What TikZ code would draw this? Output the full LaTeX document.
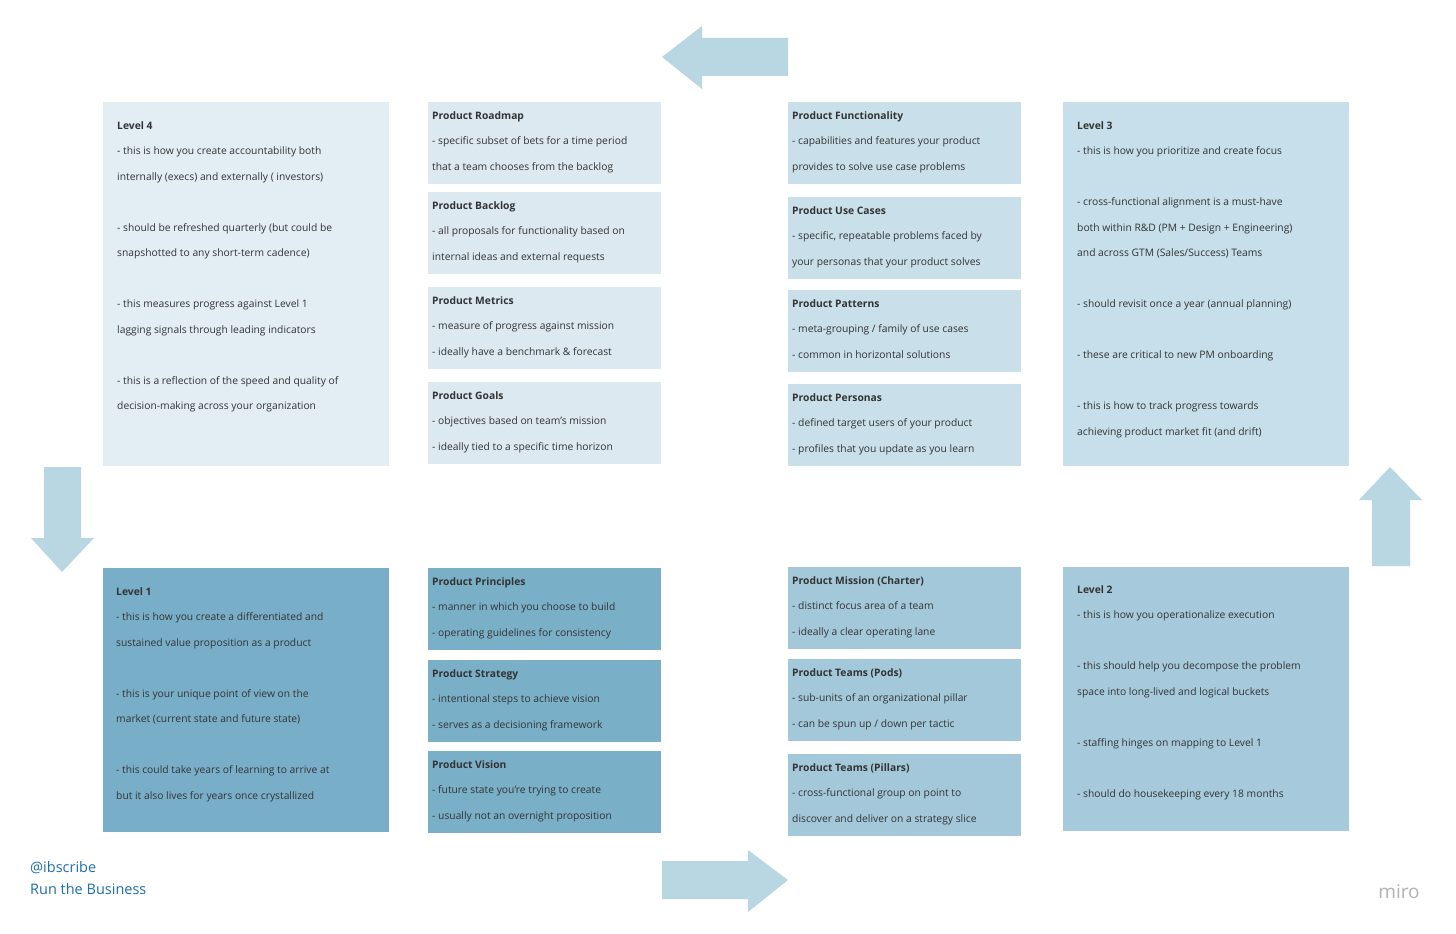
\documentclass[tikz,border=0pt]{standalone}
\usepackage{fontspec}
\setmainfont{Open Sans}
\begin{document}
\definecolor{cA}{HTML}{E3EEF4}
\definecolor{cB}{HTML}{DCE9F0}
\definecolor{cC}{HTML}{C9E0EA}
\definecolor{cD}{HTML}{C6DFEA}
\definecolor{cE}{HTML}{79AEC8}
\definecolor{cF}{HTML}{7AAFC8}
\definecolor{cG}{HTML}{A3C8DA}
\definecolor{cH}{HTML}{A6CADC}
\definecolor{arr}{HTML}{B9D7E3}
\definecolor{txt}{HTML}{333333}
\definecolor{blu}{HTML}{1F6FA8}
\begin{tikzpicture}[x=1pt,y=-1pt,
  txt/.style={anchor=north west,inner sep=0pt,align=left,text=txt,font=\fontsize{10.3}{25.5}\selectfont},
  arrow/.style={fill=arr,draw=none}]
\useasboundingbox (0,0) rectangle (1456,934);
\fill[white] (0,0) rectangle (1456,934);
\newcommand{\bx}[8]{\fill[#5] (#1,#2) rectangle (#3,#4);
  \node[txt] (#8) at ($(#1,#2)+(#6)$) {#7};}
\newcommand{\sbx}[6]{\fill[#5] (#1,#2) rectangle (#3,#4);
  \node[txt] (#6) at (#1+4,#2+11) {#6};}
% Level 4
\fill[cA] (103,102) rectangle (389,466);
\node[txt] (l4) at (117,121) {\textbf{Level 4}\\- this is how you create accountability both\\internally (execs) and externally ( investors)\\\mbox{}\\- should be refreshed quarterly (but could be\\snapshotted to any short-term cadence)\\\mbox{}\\- this measures progress against Level 1\\lagging signals through leading indicators\\\mbox{}\\- this is a reflection of the speed and quality of\\decision-making across your organization};
% column 2 top
\fill[cB] (428,102) rectangle (661,184);
\node[txt] (rm) at (432,111) {\textbf{Product Roadmap}\\- specific subset of bets for a time period\\that a team chooses from the backlog};
\fill[cB] (428,192) rectangle (661,274);
\node[txt] (bl) at (432,201) {\textbf{Product Backlog}\\- all proposals for functionality based on\\internal ideas and external requests};
\fill[cB] (428,287) rectangle (661,369);
\node[txt] (me) at (432,296) {\textbf{Product Metrics}\\- measure of progress against mission\\- ideally have a benchmark \& forecast};
\fill[cB] (428,382) rectangle (661,464);
\node[txt] (go) at (432,391) {\textbf{Product Goals}\\- objectives based on team's mission\\- ideally tied to a specific time horizon};
% column 3 top
\fill[cC] (788,102) rectangle (1021,184);
\node[txt] (fu) at (792,111) {\textbf{Product Functionality}\\- capabilities and features your product\\provides to solve use case problems};
\fill[cC] (788,197) rectangle (1021,279);
\node[txt] (uc) at (792,206) {\textbf{Product Use Cases}\\- specific, repeatable problems faced by\\your personas that your product solves};
\fill[cC] (788,290) rectangle (1021,372);
\node[txt] (pa) at (792,299) {\textbf{Product Patterns}\\- meta-grouping / family of use cases\\- common in horizontal solutions};
\fill[cC] (788,384) rectangle (1021,466);
\node[txt] (pe) at (792,393) {\textbf{Product Personas}\\- defined target users of your product\\- profiles that you update as you learn};
% Level 3
\fill[cD] (1063,102) rectangle (1349,466);
\node[txt] (l3) at (1077,121) {\textbf{Level 3}\\- this is how you prioritize and create focus\\\mbox{}\\- cross-functional alignment is a must-have\\both within R\&D (PM + Design + Engineering)\\and across GTM (Sales/Success) Teams\\\mbox{}\\- should revisit once a year (annual planning)\\\mbox{}\\- these are critical to new PM onboarding\\\mbox{}\\- this is how to track progress towards\\achieving product market fit (and drift)};
% Level 1
\fill[cE] (103,568) rectangle (389,832);
\node[txt] (l1) at (116,587) {\textbf{Level 1}\\- this is how you create a differentiated and\\sustained value proposition as a product\\\mbox{}\\- this is your unique point of view on the\\market (current state and future state)\\\mbox{}\\- this could take years of  learning to arrive at\\but it also lives for years once crystallized};
% column 2 bottom
\fill[cF] (428,568) rectangle (661,650);
\node[txt] (pr) at (432,577) {\textbf{Product Principles}\\- manner in which you choose to build\\- operating guidelines for consistency};
\fill[cF] (428,660) rectangle (661,742);
\node[txt] (st) at (432,669) {\textbf{Product Strategy}\\- intentional steps to achieve vision\\- serves as a decisioning framework};
\fill[cF] (428,751) rectangle (661,833);
\node[txt] (vi) at (432,760) {\textbf{Product Vision}\\- future state you're trying to create\\- usually not an overnight proposition};
% column 3 bottom
\fill[cG] (788,567) rectangle (1021,649);
\node[txt] (mi) at (792,576) {\textbf{Product Mission (Charter)}\\- distinct focus area of a team\\- ideally a clear operating lane};
\fill[cG] (788,659) rectangle (1021,741);
\node[txt] (po) at (792,668) {\textbf{Product Teams (Pods)}\\- sub-units of an organizational pillar\\- can be spun up / down per tactic};
\fill[cG] (788,754) rectangle (1021,836);
\node[txt] (pi) at (792,763) {\textbf{Product Teams (Pillars)}\\- cross-functional group on point to\\discover and deliver on a strategy slice};
% Level 2
\fill[cH] (1063,567) rectangle (1349,831);
\node[txt] (l2) at (1077,585) {\textbf{Level 2}\\- this is how you operationalize execution\\\mbox{}\\- this should help you decompose the problem\\space into long-lived and logical buckets\\\mbox{}\\- staffing hinges on mapping  to Level 1\\\mbox{}\\- should do housekeeping every 18 months};
% arrows
\fill[arrow] (788,38) -- (702,38) -- (702,26) -- (662,57) -- (702,89) -- (702,76) -- (788,76) -- cycle;
\fill[arrow] (662,861) -- (748,861) -- (748,850) -- (788,880) -- (748,912) -- (748,899) -- (662,899) -- cycle;
\fill[arrow] (44,467) -- (81,467) -- (81,538) -- (94,538) -- (62,572) -- (31,538) -- (44,538) -- cycle;
\fill[arrow] (1372,566) -- (1410,566) -- (1410,500) -- (1422,500) -- (1390,467) -- (1359,500) -- (1372,500) -- cycle;
% footer
\node[anchor=north west,inner sep=0pt,align=left,text=blu,font=\fontsize{14.5}{22}\selectfont] (ft) at (30,861) {@ibscribe\\Run the Business};
\node[anchor=center,inner sep=0pt,text=black!30,font=\fontsize{19}{20}\selectfont] (miro) at (1399,892) {miro};
\end{tikzpicture}
\end{document}
